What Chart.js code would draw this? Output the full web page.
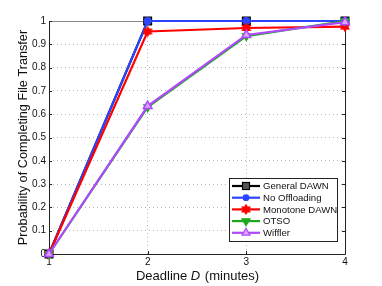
<!DOCTYPE html>
<html>
<head>
<meta charset="utf-8">
<script src="https://cdn.jsdelivr.net/npm/chart.js@4.4.0/dist/chart.umd.min.js"></script>
<style>
html,body{margin:0;padding:0;background:#fff;}
#wrap{width:382px;height:286px;position:relative;}
</style>
</head>
<body>
<div id="wrap"><canvas id="c" width="382" height="286"></canvas></div>
<script>
const deadlines = [1, 2, 3, 4];
const generalDawn = [0, 1.0, 1.0, 1.0];
const noOffloading = [0, 1.0, 1.0, 1.0];
const monotoneDawn = [0, 0.955, 0.970, 0.976];
const otso = [0, 0.630, 0.935, 1.0];
const wiffler = [0, 0.635, 0.940, 0.995];
const seriesNames = ['General DAWN', 'No Offloading', 'Monotone DAWN', 'OTSO', 'Wiffler'];
const yTicks = [0, 0.1, 0.2, 0.3, 0.4, 0.5, 0.6, 0.7, 0.8, 0.9, 1];
const xTitleParts = ['Deadline ', 'D', ' (minutes)'];
const yTitle = 'Probability of Completing File Transfer';

const FONT = '"Liberation Sans", Arial, Helvetica, sans-serif';

function makeHexagram(color, r) {
  const s = Math.ceil(r * 2 + 2);
  const cv = document.createElement('canvas');
  cv.width = s; cv.height = s;
  const g = cv.getContext('2d');
  const c = s / 2;
  g.fillStyle = color; g.strokeStyle = color; g.lineWidth = 1;
  for (let k = 0; k < 2; k++) {
    g.beginPath();
    for (let i = 0; i < 3; i++) {
      const a = -Math.PI / 2 + k * Math.PI + i * 2 * Math.PI / 3;
      const x = c + r * Math.cos(a), y = c + r * Math.sin(a);
      if (i === 0) g.moveTo(x, y); else g.lineTo(x, y);
    }
    g.closePath(); g.fill(); g.stroke();
  }
  return cv;
}
const hexRed = makeHexagram('#ff0000', 5);

function pts(arr) { return deadlines.map((d, i) => ({x: d, y: arr[i]})); }

const colors = ['#000000', '#2a44ff', '#ff0000', '#1ea81e', '#b048ff'];
const fills = ['#555555', '#2a44ff', '#ff0000', '#1ea81e', '#d9a6ff'];

const datasets = [
  {label: seriesNames[0], data: pts(generalDawn), borderColor: colors[0], backgroundColor: fills[0],
   pointStyle: 'rect', pointRadius: 5.5, pointBorderColor: '#000', pointBorderWidth: 1.2, order: 5},
  {label: seriesNames[1], data: pts(noOffloading), borderColor: colors[1], backgroundColor: fills[1],
   pointStyle: 'circle', pointRadius: 3.6, pointBorderColor: colors[1], pointBorderWidth: 1, order: 4},
  {label: seriesNames[2], data: pts(monotoneDawn), borderColor: colors[2], backgroundColor: fills[2],
   pointStyle: hexRed, order: 3},
  {label: seriesNames[3], data: pts(otso), borderColor: colors[3], backgroundColor: fills[3],
   pointStyle: 'triangle', rotation: 180, pointRadius: 4.5, pointBorderColor: colors[3], pointBorderWidth: 1.2, order: 2},
  {label: seriesNames[4], data: pts(wiffler), borderColor: colors[4], backgroundColor: fills[4],
   pointStyle: 'triangle', pointRadius: 5, pointBorderColor: colors[4], pointBorderWidth: 1.5, order: 1}
];
datasets.forEach(d => { d.borderWidth = 2.2; d.fill = false; d.tension = 0; d.clip = false; });

function drawMarker(ctx, i, x, y) {
  ctx.save();
  ctx.lineWidth = 1.2;
  if (i === 0) {
    ctx.fillStyle = fills[0]; ctx.strokeStyle = '#000';
    ctx.fillRect(x - 3.5, y - 3.5, 7, 7); ctx.strokeRect(x - 3.5, y - 3.5, 7, 7);
  } else if (i === 1) {
    ctx.fillStyle = colors[1];
    ctx.beginPath(); ctx.arc(x, y, 3.4, 0, Math.PI * 2); ctx.fill();
  } else if (i === 2) {
    ctx.drawImage(hexRed, x - hexRed.width / 2, y - hexRed.height / 2);
  } else {
    const r = 4.6, up = i === 4 ? 1 : -1;
    ctx.fillStyle = fills[i]; ctx.strokeStyle = colors[i];
    ctx.beginPath();
    ctx.moveTo(x, y - up * r);
    ctx.lineTo(x + r * 0.87, y + up * r * 0.5);
    ctx.lineTo(x - r * 0.87, y + up * r * 0.5);
    ctx.closePath(); ctx.fill(); ctx.stroke();
  }
  ctx.restore();
}

const framePlugin = {
  id: 'frame',
  beforeDatasetsDraw(chart) {
    const ctx = chart.ctx, a = chart.chartArea;
    const xs = chart.scales.x, ys = chart.scales.y;
    ctx.save();
    ctx.strokeStyle = '#222'; ctx.lineWidth = 1;
    ctx.beginPath();
    ctx.moveTo(a.left + 0.5, a.top + 0.5); ctx.lineTo(a.left + 0.5, a.bottom + 0.5);
    ctx.lineTo(a.right + 0.5, a.bottom + 0.5); ctx.lineTo(a.right + 0.5, a.top + 0.5);
    ctx.stroke();
    ctx.strokeStyle = '#888';
    ctx.beginPath(); ctx.moveTo(a.left + 0.5, a.top + 0.5); ctx.lineTo(a.right + 0.5, a.top + 0.5); ctx.stroke();
    ctx.strokeStyle = '#222';
    const tl = 3;
    ctx.beginPath();
    xs.ticks.forEach(t => {
      const px = Math.round(xs.getPixelForValue(t.value)) + 0.5;
      ctx.moveTo(px, a.bottom); ctx.lineTo(px, a.bottom - tl);
      ctx.moveTo(px, a.top); ctx.lineTo(px, a.top + tl);
    });
    ys.ticks.forEach(t => {
      const py = Math.round(ys.getPixelForValue(t.value)) + 0.5;
      ctx.moveTo(a.left, py); ctx.lineTo(a.left + tl, py);
      ctx.moveTo(a.right, py); ctx.lineTo(a.right - tl, py);
    });
    ctx.stroke();
    ctx.restore();
  },
  afterDraw(chart) {
    const ctx = chart.ctx, a = chart.chartArea;
    ctx.save();
    ctx.fillStyle = '#111';
    ctx.textBaseline = 'middle';
    const fs = 13;
    const normal = fs + 'px ' + FONT, ital = 'italic ' + fs + 'px ' + FONT;
    ctx.font = normal;
    const w0 = ctx.measureText(xTitleParts[0]).width, w2 = ctx.measureText(xTitleParts[2]).width;
    ctx.font = ital;
    const w1 = ctx.measureText(xTitleParts[1]).width;
    let x0 = (a.left + a.right) / 2 - (w0 + w1 + w2) / 2;
    const ty = 276;
    ctx.textAlign = 'left';
    ctx.font = normal; ctx.fillText(xTitleParts[0], x0, ty);
    ctx.font = ital; ctx.fillText(xTitleParts[1], x0 + w0, ty);
    ctx.font = normal; ctx.fillText(xTitleParts[2], x0 + w0 + w1 + 1, ty);

    ctx.save();
    ctx.translate(23, (a.top + a.bottom) / 2);
    ctx.rotate(-Math.PI / 2);
    ctx.textAlign = 'center';
    ctx.font = '12.7px ' + FONT;
    ctx.fillText(yTitle, 0, 0);
    ctx.restore();

    // legend
    const lx1 = a.right - 116, lx2 = a.right - 8, ly1 = a.bottom - 76, ly2 = a.bottom - 13;
    ctx.fillStyle = '#fff';
    ctx.fillRect(lx1, ly1, lx2 - lx1, ly2 - ly1);
    ctx.strokeStyle = '#222'; ctx.lineWidth = 1;
    ctx.strokeRect(lx1 + 0.5, ly1 + 0.5, lx2 - lx1, ly2 - ly1);
    ctx.font = '9.6px ' + FONT;
    ctx.textAlign = 'left'; ctx.textBaseline = 'middle';
    seriesNames.forEach((name, i) => {
      const yy = ly1 + 8 + i * 11.7;
      ctx.strokeStyle = colors[i]; ctx.lineWidth = 2.2;
      ctx.beginPath(); ctx.moveTo(lx1 + 3, yy); ctx.lineTo(lx1 + 31, yy); ctx.stroke();
      drawMarker(ctx, i, lx1 + 17, yy);
      ctx.fillStyle = '#111';
      ctx.fillText(name, lx1 + 34, yy + 0.5);
    });
    ctx.restore();
  }
};

new Chart(document.getElementById('c'), {
  type: 'line',
  data: {datasets},
  options: {
    responsive: false,
    animation: false,
    devicePixelRatio: 1,
    layout: {padding: {left: 0, top: 21, right: 37, bottom: 0}},
    plugins: {legend: {display: false}, tooltip: {enabled: false}},
    scales: {
      x: {
        type: 'linear', min: 1, max: 4,
        afterBuildTicks(s) { s.ticks = deadlines.map(v => ({value: v})); },
        ticks: {color: '#111', font: {size: 10, family: FONT}, padding: 2, callback: v => String(v)},
        grid: {color: '#b8b8b8', drawTicks: false, lineWidth: 1},
        border: {display: false, dash: [1, 3]},
        afterFit(s) { s.height = 32; }
      },
      y: {
        min: 0, max: 1,
        afterBuildTicks(s) { s.ticks = yTicks.map(v => ({value: v})); },
        ticks: {color: '#111', font: {size: 10, family: FONT}, padding: 3, callback: v => String(Math.round(v * 10) / 10)},
        grid: {color: '#b8b8b8', drawTicks: false, lineWidth: 1},
        border: {display: false, dash: [1, 3]},
        afterFit(s) { s.width = 49; }
      }
    }
  },
  plugins: [framePlugin]
});
</script>
</body>
</html>
